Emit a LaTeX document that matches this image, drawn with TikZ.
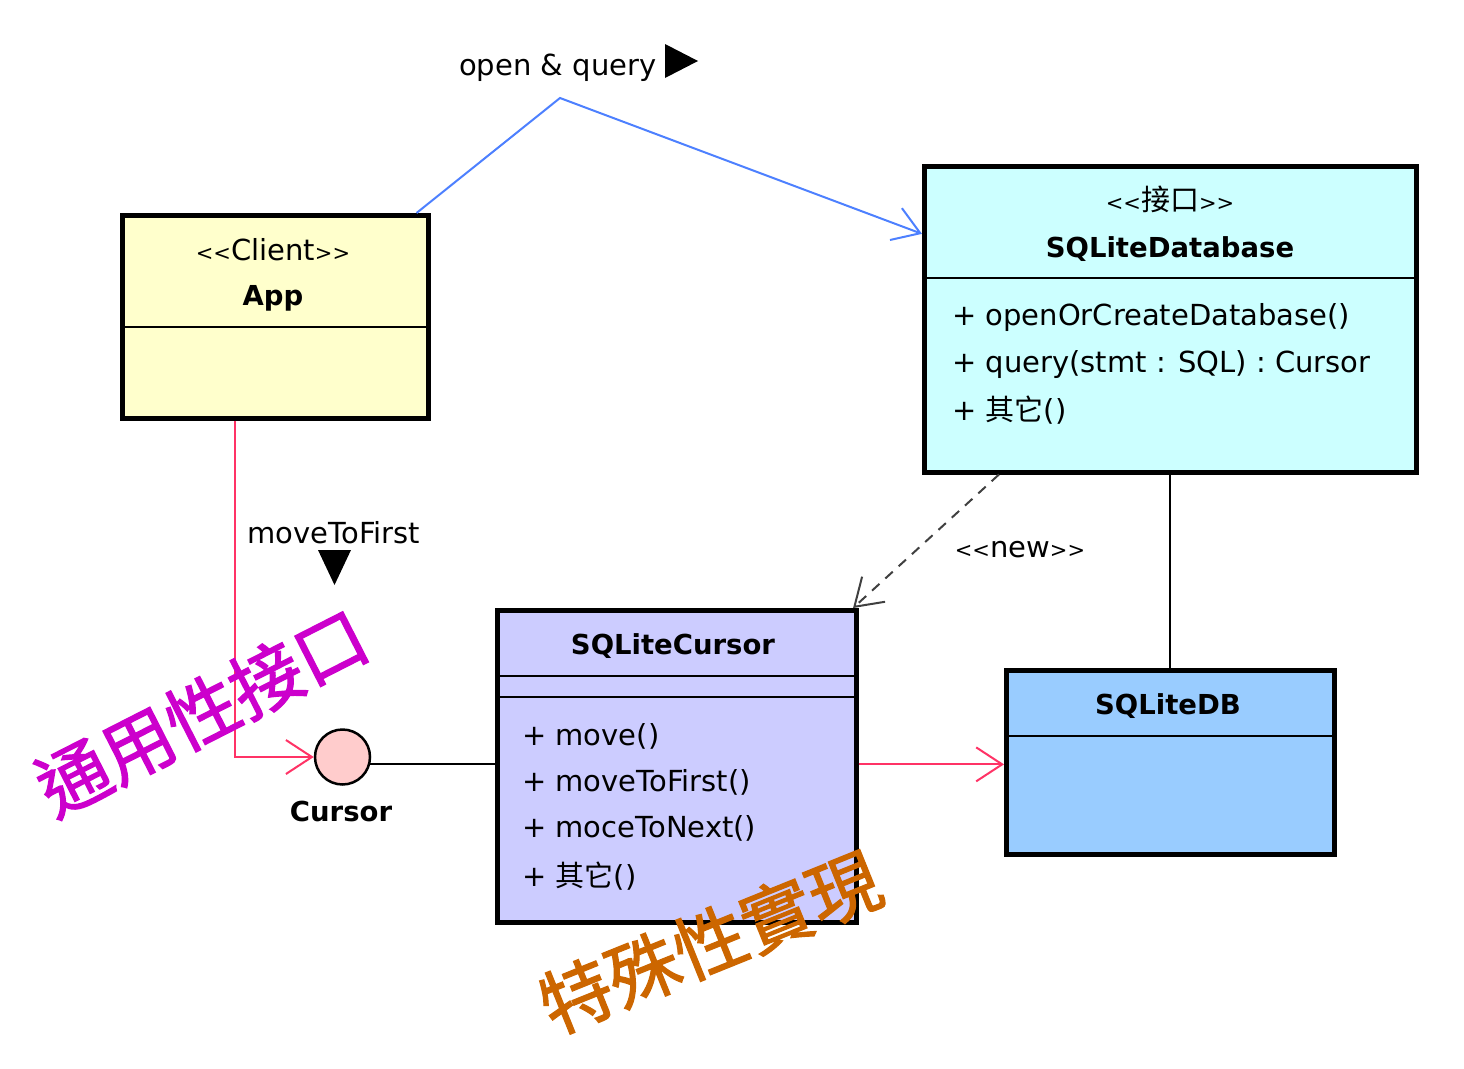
\documentclass[tikz,border=0pt]{standalone}
\usepackage{fontspec}
\setmainfont{DejaVu Sans}
\newfontfamily\cjk{Noto Sans CJK TC}
\newfontfamily\annfont{Noto Sans CJK TC}[FakeBold=1.6]
\usetikzlibrary{arrows.meta,calc}
\definecolor{appfill}{HTML}{FFFFCC}
\definecolor{dbfill}{HTML}{CCFFFF}
\definecolor{curfill}{HTML}{CCCCFF}
\definecolor{sqlfill}{HTML}{99CCFF}
\definecolor{circfill}{HTML}{FFCCCC}
\definecolor{pinkln}{HTML}{FF3366}
\definecolor{blueln}{HTML}{4D80FF}
\definecolor{annmag}{HTML}{CC00CC}
\definecolor{annorg}{HTML}{CC6600}
\newcommand\LL{{\fontsize{21}{21}\selectfont<\kern0pt<}}
\newcommand\GG{{\fontsize{21}{21}\selectfont>\kern0pt>}}
\begin{document}
\begin{tikzpicture}[x=1pt,y=-1pt,
  classbox/.style={draw=black, line width=4.5pt, inner sep=0pt, anchor=north west},
  divider/.style={line width=2pt},
  reg/.style={font=\fontsize{29}{34}\selectfont, inner sep=0pt},
  boldtxt/.style={font=\fontsize{27.5}{34}\selectfont\bfseries, inner sep=0pt},
  barb/.style={-{Straight Barb[length=26pt,width=34pt,line width=2pt]}},
  pinkarrow/.style={draw=pinkln, line width=2pt, barb},
  bluearrow/.style={draw=blueln, line width=2pt, barb},
  ann/.style={font=\annfont\fontsize{72}{80}\selectfont, inner sep=0pt}
]
\useasboundingbox (0,0) rectangle (1464,1068);

% App
\node[classbox, fill=appfill, minimum width=306pt, minimum height=203pt] (app) at (120,213) {};
\draw[divider] (app.west |- 0,327) -- (app.east |- 0,327);
\node[reg, anchor=base] (appst) at (273,260) {\LL Client\GG};
\node[boldtxt, anchor=base] (appname) at (273,305) {App};

% SQLiteDatabase
\node[classbox, fill=dbfill, minimum width=492pt, minimum height=306pt] (db) at (922,164) {};
\draw[divider] (db.west |- 0,278) -- (db.east |- 0,278);
\node[reg, anchor=base] (dbst) at (1170,210) {\LL{\cjk 接口}\GG};
\node[boldtxt, anchor=base] (dbname) at (1170,257) {SQLiteDatabase};
\node[reg, anchor=base west] (dbm1) at (952,325) {+ openOrCreateDatabase()};
\node[reg, anchor=base west] (dbm2) at (952,372) {+ query(stmt : SQL) : Cursor};
\node[reg, anchor=base west] (dbm3) at (952,420) {+ {\cjk 其它}()};

% SQLiteCursor
\node[classbox, fill=curfill, minimum width=359pt, minimum height=312pt] (cur) at (495,608) {};
\draw[divider] (cur.west |- 0,676) -- (cur.east |- 0,676);
\draw[divider] (cur.west |- 0,697) -- (cur.east |- 0,697);
\node[boldtxt, anchor=base] (curname) at (673,654) {SQLiteCursor};
\node[reg, anchor=base west] (curm1) at (522,745) {+ move()};
\node[reg, anchor=base west] (curm2) at (522,791) {+ moveToFirst()};
\node[reg, anchor=base west] (curm3) at (522,837) {+ moceToNext()};
\node[reg, anchor=base west] (curm4) at (522,886) {+ {\cjk 其它}()};

% SQLiteDB
\node[classbox, fill=sqlfill, minimum width=328pt, minimum height=184pt] (sqldb) at (1004,668) {};
\draw[divider] (sqldb.west |- 0,736) -- (sqldb.east |- 0,736);
\node[boldtxt, anchor=base] (sqldbname) at (1168,714) {SQLiteDB};

% Cursor interface (lollipop)
\node[circle, draw=black, line width=2.5pt, fill=circfill, minimum size=55pt, inner sep=0pt] (circ) at (342.5,757) {};
\node[boldtxt, anchor=base] (circlbl) at (341,821) {Cursor};
\draw[line width=2pt] (circ.-15) -- (circ.-15 -| cur.west);

% connectors
\coordinate (appbot) at ($(app.south west)!0.37!(app.south east)$);
\draw[pinkarrow] (appbot) |- (circ.west);

\coordinate (apptop) at ($(app.north west)!0.955!(app.north east)$);
\coordinate (peak) at (560,98);
\coordinate (dbin) at ($(db.north west)!0.225!(db.south west)$);
\draw[bluearrow] (apptop) -- (peak) -- (dbin);

\coordinate (dbout) at ($(db.south west)!0.155!(db.south east)$);
\coordinate (curin) at ($(cur.north west)!0.985!(cur.north east)$);
\draw[draw=black!75, line width=2pt, dash pattern=on 10pt off 8pt, barb] (dbout) -- (curin);
\node[reg, anchor=base] (newlbl) at (1020,557) {\LL new\GG};

\draw[line width=2pt] (db.south) -- (sqldb.north);

\coordinate (curout) at ($(cur.north east)!0.494!(cur.south east)$);
\draw[pinkarrow] (curout) -- (curout -| sqldb.west);

% labels with direction triangles
\node[reg, anchor=base west] (oq) at (459,75) {open \& query};
\coordinate (tri1) at (665,44);
\fill (tri1) -- ++(0,34) -- ++(33,-17) -- cycle;

\node[reg, anchor=base] (mtf) at (334,543) {moveToFirst};
\coordinate (tri2) at (318,550);
\fill (tri2) -- ++(33,0) -- ++(-16.5,35) -- cycle;

% annotations
\node[ann, text=annmag, rotate=27] (ann1) at (202,712) {通用性接口};
\node[ann, text=annorg, rotate=22] (ann2) at (710,942) {特殊性實現};
\end{tikzpicture}
\end{document}
